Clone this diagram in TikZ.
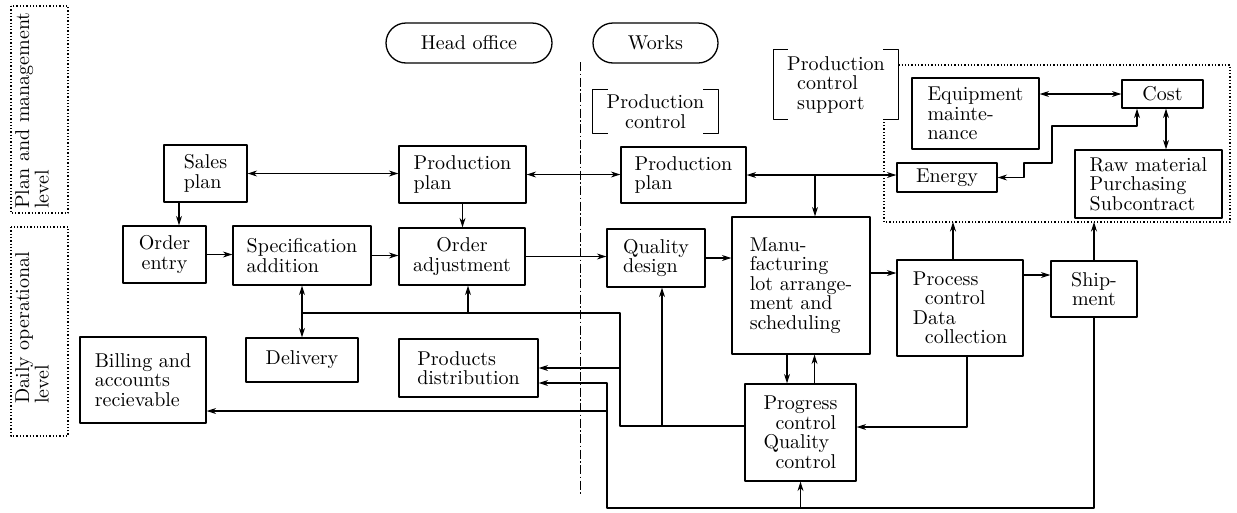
\documentclass[tikz,border=0pt]{standalone}
\usepackage{tikz}
\usetikzlibrary{arrows.meta}
% ten point design of Latin Modern at every size
\DeclareFontFamily{TU}{lmten}{}
\DeclareFontShape{TU}{lmten}{m}{n}{<-> \UnicodeFontFile{lmroman10-regular}{\UnicodeFontTeXLigatures}}{}

\begin{document}
\begin{tikzpicture}[x=1pt, y=-1pt, line join=round,
    font=\fontfamily{lmten}\fontsize{20}{19.5}\selectfont,
    >={Stealth[length=9.5pt, width=6pt]},
    blk/.style={draw, line width=1.3pt, inner sep=2pt},
    pill/.style={draw, line width=1.3pt, rounded corners=20pt, minimum height=40pt},
    link/.style={line width=1.05pt},
    zone/.style={line width=1.3pt, dotted}]

    \useasboundingbox (0,0) rectangle (1237,512);

    % Level labels on the left
    \draw[zone] (11,6) rectangle (68,213);
    \draw[zone] (11,227) rectangle (68,436);
    \node[rotate=90, anchor=north west, align=left, inner sep=1pt] (lvplan) at (14,210) {Plan and management\\level};
    \node[rotate=90, anchor=north west, align=left, inner sep=1pt] (lvdaily) at (14,405) {Daily operational\\level};

    % Head office and works, split by the dash-dot line
    \node[pill, minimum width=166pt] (head) at (469,43) {Head office};
    \node[pill, minimum width=125pt] (works) at (655.5,43) {Works};
    \draw[line width=1pt, dash pattern=on 9pt off 2.5pt on 1.5pt off 2.5pt] (580,62) -- (580,495);

    % Bracketed group labels
    \node[minimum width=125pt, minimum height=43pt, inner sep=0pt, align=center] (pctl) at (655.5,111.5) {Production\\control};
    \draw[link] ([xshift=15pt]pctl.north west) -- (pctl.north west) -- (pctl.south west) -- ([xshift=15pt]pctl.south west);
    \draw[link] ([xshift=-15pt]pctl.north east) -- (pctl.north east) -- (pctl.south east) -- ([xshift=-15pt]pctl.south east);
    \node[minimum width=124pt, minimum height=69pt, inner sep=0pt, align=left] (psup) at (836,84.5) {Production\\\hspace*{0.5em}control\\\hspace*{0.5em}support};
    \draw[link] ([xshift=14pt]psup.north west) -- (psup.north west) -- (psup.south west) -- ([xshift=14pt]psup.south west);
    \draw[link] ([xshift=-15pt]psup.north east) -- (psup.north east) -- (psup.south east) -- ([xshift=-15pt]psup.south east);
    \draw[zone] (psup.north east |- 0,65) -- (1230,65) -- (1230,222) -- (884,222) -- (884,119);

    % Head office boxes
    \node[blk, minimum width=83pt, minimum height=57pt, align=left] (sales) at (205.5,173.5) {Sales\\plan};
    \node[blk, minimum width=127pt, minimum height=57pt, align=left] (hpp) at (462.5,174.5) {Production\\plan};
    \node[blk, minimum width=83pt, minimum height=57pt, align=center] (entry) at (164.5,254.5) {Order\\entry};
    \node[blk, minimum width=138pt, minimum height=59pt, align=left] (spec) at (302,255.5) {Specification\\addition};
    \node[blk, minimum width=126pt, minimum height=57pt, align=center] (adj) at (462,256.5) {Order\\adjustment};
    \node[blk, minimum width=112pt, minimum height=44pt] (delivery) at (302,360) {Delivery};
    \node[blk, minimum width=139pt, minimum height=58pt, align=left] (dist) at (468.5,368) {Products\\distribution};
    \node[blk, minimum width=126pt, minimum height=86pt, align=left] (billing) at (143,380) {Billing and\\accounts\\recievable};

    % Works boxes
    \node[blk, minimum width=125pt, minimum height=56pt, align=left] (wpp) at (683.5,175) {Production\\plan};
    \node[blk, minimum width=98pt, minimum height=58pt, align=left] (quality) at (656,258) {Quality\\design};
    \node[blk, minimum width=138pt, minimum height=137pt, align=left] (manu) at (801,285.5) {Manu-\\facturing\\lot arrange-\\ment and\\scheduling};
    \node[blk, minimum width=126pt, minimum height=96pt, align=left] (process) at (960,308) {Process\\\hspace*{0.6em}control\\Data\\\hspace*{0.6em}collection};
    \node[blk, minimum width=86pt, minimum height=56pt, align=center] (ship) at (1094,289) {Ship-\\ment};
    \node[blk, minimum width=111pt, minimum height=97pt, align=left] (progress) at (800.5,432.5) {Progress\\\hspace*{0.6em}control\\Quality\\\hspace*{0.6em}control};

    % Support boxes
    \node[blk, minimum width=127pt, minimum height=71pt, align=left] (equip) at (975.5,113.5) {Equipment\\mainte-\\nance};
    \node[blk, minimum width=81pt, minimum height=28pt] (cost) at (1162.5,94) {Cost};
    \node[blk, minimum width=100pt, minimum height=29pt] (energy) at (947,177.5) {Energy};
    \node[blk, minimum width=147pt, minimum height=68pt, align=left] (raw) at (1148.5,184) {Raw material\\Purchasing\\Subcontract};

    % Plan level links
    \draw[link, <->] (sales.east) -- (sales.east -| hpp.west);
    \draw[link, <->] (hpp.east) -- (hpp.east -| wpp.west);
    \draw[link, <->] (wpp.east) -- (wpp.east -| energy.west);
    \coordinate (jm) at (815,175);
    \draw[link, ->] (jm) -- (jm |- manu.north);

    % Daily order chain
    \draw[link, ->] ([xshift=-26.5pt]sales.south) -- ([xshift=-26.5pt]sales.south |- entry.north);
    \draw[link, ->] (entry.east) -- (entry.east -| spec.west);
    \draw[link, ->] (spec.east) -- (spec.east -| adj.west);
    \draw[link, ->] (hpp.south) -- (hpp.south |- adj.north);
    \draw[link, ->] (adj.east) -- (adj.east -| quality.west);
    \draw[link, ->] (quality.east) -- (quality.east -| manu.west);
    \draw[link, ->] ([yshift=12.5pt]manu.east) -- ([yshift=12.5pt]manu.east -| process.west);
    \draw[link, ->] ([yshift=33pt]process.east) -- ([yshift=33pt]process.east -| ship.west);

    % Links into the support area
    \coordinate (sp1) at (953,222);
    \coordinate (sp2) at (1094,222);
    \draw[link, ->] (sp1 |- process.north) -- (sp1);
    \draw[link, ->] (ship.north) -- (sp2);
    \draw[link, <->] (equip.east |- cost.west) -- (cost.west);
    \coordinate (cr) at (1166,0);
    \draw[link, <->] (cr |- cost.south) -- (cr |- raw.north);
    \draw[link, <->] (energy.east) -| (1024,163) -| (1052,126) -| ([xshift=-25.5pt]cost.south);

    % Manufacturing and progress
    \draw[link, ->] ([xshift=-14pt]manu.south) -- ([xshift=-14pt]manu.south |- progress.north);
    \draw[link, ->] ([xshift=14pt]progress.north) -- ([xshift=14pt]progress.north |- manu.south);
    \draw[link, ->] ([xshift=7pt]process.south) |- ([yshift=5.5pt]progress.east);

    % Feedback from progress control
    \coordinate (pw) at ([yshift=6.5pt]progress.west);
    \coordinate (fb) at (620,313);
    \coordinate (aj) at ([xshift=6pt]adj.south);
    \coordinate (qd) at ([xshift=6pt]quality.south);
    \draw[link] (pw) -| (fb) -- (fb -| spec.south);
    \draw[link, <->] (spec.south) -- (delivery.north);
    \draw[link, ->] (aj |- fb) -- (aj);
    \draw[link, ->] (fb |- dist.east) -- (dist.east);
    \draw[link, ->] (qd |- pw) -- (qd);

    % Return line from shipment
    \coordinate (rt) at (607,508);
    \coordinate (bl) at (607,411);
    \draw[link, ->] (ship.south) |- (rt) |- ([yshift=-15pt]dist.east);
    \draw[link, ->] (progress.south |- rt) -- (progress.south);
    \draw[link, ->] (bl) -- (bl -| billing.east);

\end{tikzpicture}
\end{document}
